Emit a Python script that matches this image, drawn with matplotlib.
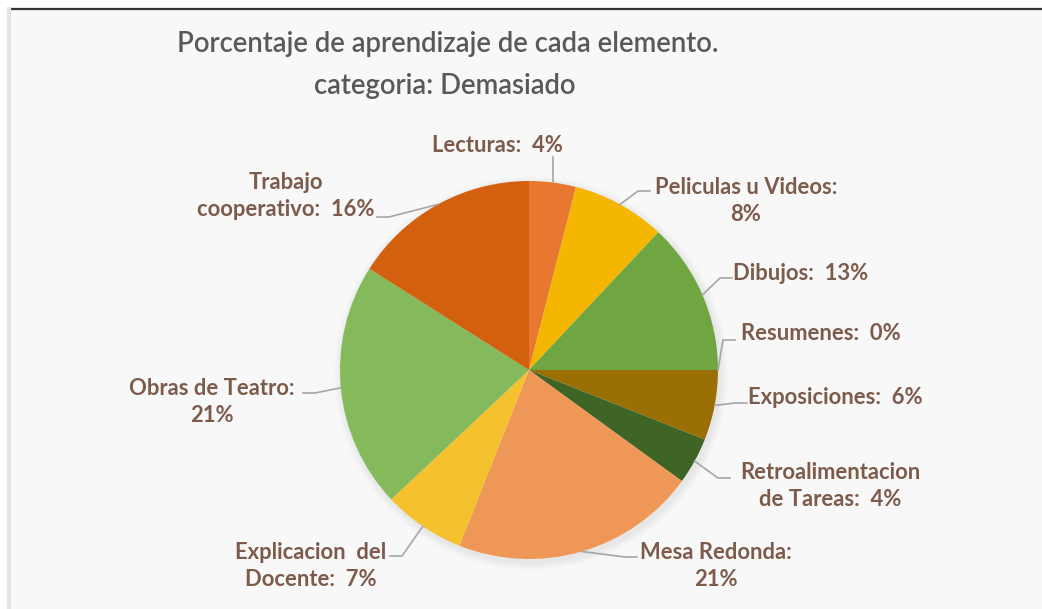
import numpy as np
import matplotlib
matplotlib.use("Agg")
import matplotlib.pyplot as plt
from matplotlib.patches import Rectangle, Circle

labels = ["Lecturas", "Peliculas u Videos", "Dibujos", "Resumenes", "Exposiciones",
          "Retroalimentacion de Tareas", "Mesa Redonda", "Explicacion  del Docente",
          "Obras de Teatro", "Trabajo cooperativo"]
values = [4, 8, 13, 0, 6, 4, 21, 7, 21, 16]
label_text = ["Lecturas:  4%", "Peliculas u Videos:\n8%", "Dibujos:  13%", "Resumenes:  0%",
              "Exposiciones:  6%", "Retroalimentacion\nde Tareas:  4%", "Mesa Redonda:\n21%",
              "Explicacion  del\nDocente:  7%", "Obras de Teatro:\n21%", "Trabajo\ncooperativo:  16%"]
colors = ["#E8782F", "#F5B602", "#6FA641", "#5B9BD5", "#9A6F03", "#3F6526",
          "#EF9757", "#F6C12E", "#84BA5C", "#D2600F"]

W, H = 1042, 609
fig = plt.figure(figsize=(W / 100, H / 100), dpi=100)
ax = fig.add_axes([0, 0, 1, 1])
fig.patch.set_facecolor("white")

cx, cy, R = 529, H - 370, 189
wedges, _ = ax.pie(values, colors=colors, startangle=90, counterclock=False,
                   center=(cx, cy), radius=R, wedgeprops=dict(linewidth=0), frame=True)
for w in wedges:
    w.set_zorder(2)
ax.set_xlim(0, W); ax.set_ylim(0, H); ax.set_aspect("equal"); ax.axis("off")

# chart area + frame
ax.add_patch(Rectangle((11, 0), W - 11, H - 10, facecolor="#F8F8F8", edgecolor="none", zorder=0))
ax.plot([11, W], [H - 9, H - 9], color="#333333", lw=1.6, zorder=1)
ax.plot([9, 9], [0, H - 9], color="#E4E4E4", lw=3, zorder=1)

# soft shadow round the pie
for i, a in enumerate([0.05, 0.04, 0.03, 0.02]):
    ax.add_patch(Circle((cx + 2, cy - 3), R + 2 + 2 * i, facecolor="#888888", alpha=a,
                        edgecolor="none", zorder=1))

ax.text(448, H - 44, "Porcentaje de aprendizaje de cada elemento.",
        ha="center", va="center", fontsize=19.8, color="#595959", family="Lato",
        fontweight="semibold")
ax.text(445, H - 86, "categoria: Demasiado",
        ha="center", va="center", fontsize=19.8, color="#595959", family="Lato",
        fontweight="semibold")

# label text centre (pixels from top-left) and leader elbow
lab_pos = [(497, 145), (746, 201), (801, 274), (821, 334), (835, 397),
           (830, 486), (716, 566), (311, 566), (212, 402), (286, 196)]
elbows = [None, (650, 191), (732, 278), (735, 340), (747, 403),
          (730, 478), (637, 557), (390, 556), (303, 393), (377, 217)]

cum = np.cumsum([0] + values)
tot = sum(values)
for i, txt in enumerate(label_text):
    mid = 90 - 360 * (cum[i] + values[i] / 2) / tot
    th = np.deg2rad(mid)
    ex, ey = cx + R * np.cos(th), cy + R * np.sin(th)
    tx, ty = lab_pos[i]
    ty = H - ty
    if elbows[i] is None:
        ax.plot([ex, ex], [ey, ty - 12], color="#A6A6A6", lw=1.2, zorder=3)
    else:
        bx, by = elbows[i]
        by = H - by
        kx = bx - 12 if bx > cx else bx + 12
        ax.plot([ex, kx, bx], [ey, by, by], color="#A6A6A6", lw=1.2, zorder=3)
    ax.text(tx, ty, txt, ha="center", va="center", fontsize=15.8, color="#7D5B4B",
            family="Lato", fontweight="bold", linespacing=1.3, zorder=4)

fig.savefig("out.png", dpi=100, facecolor="white")
